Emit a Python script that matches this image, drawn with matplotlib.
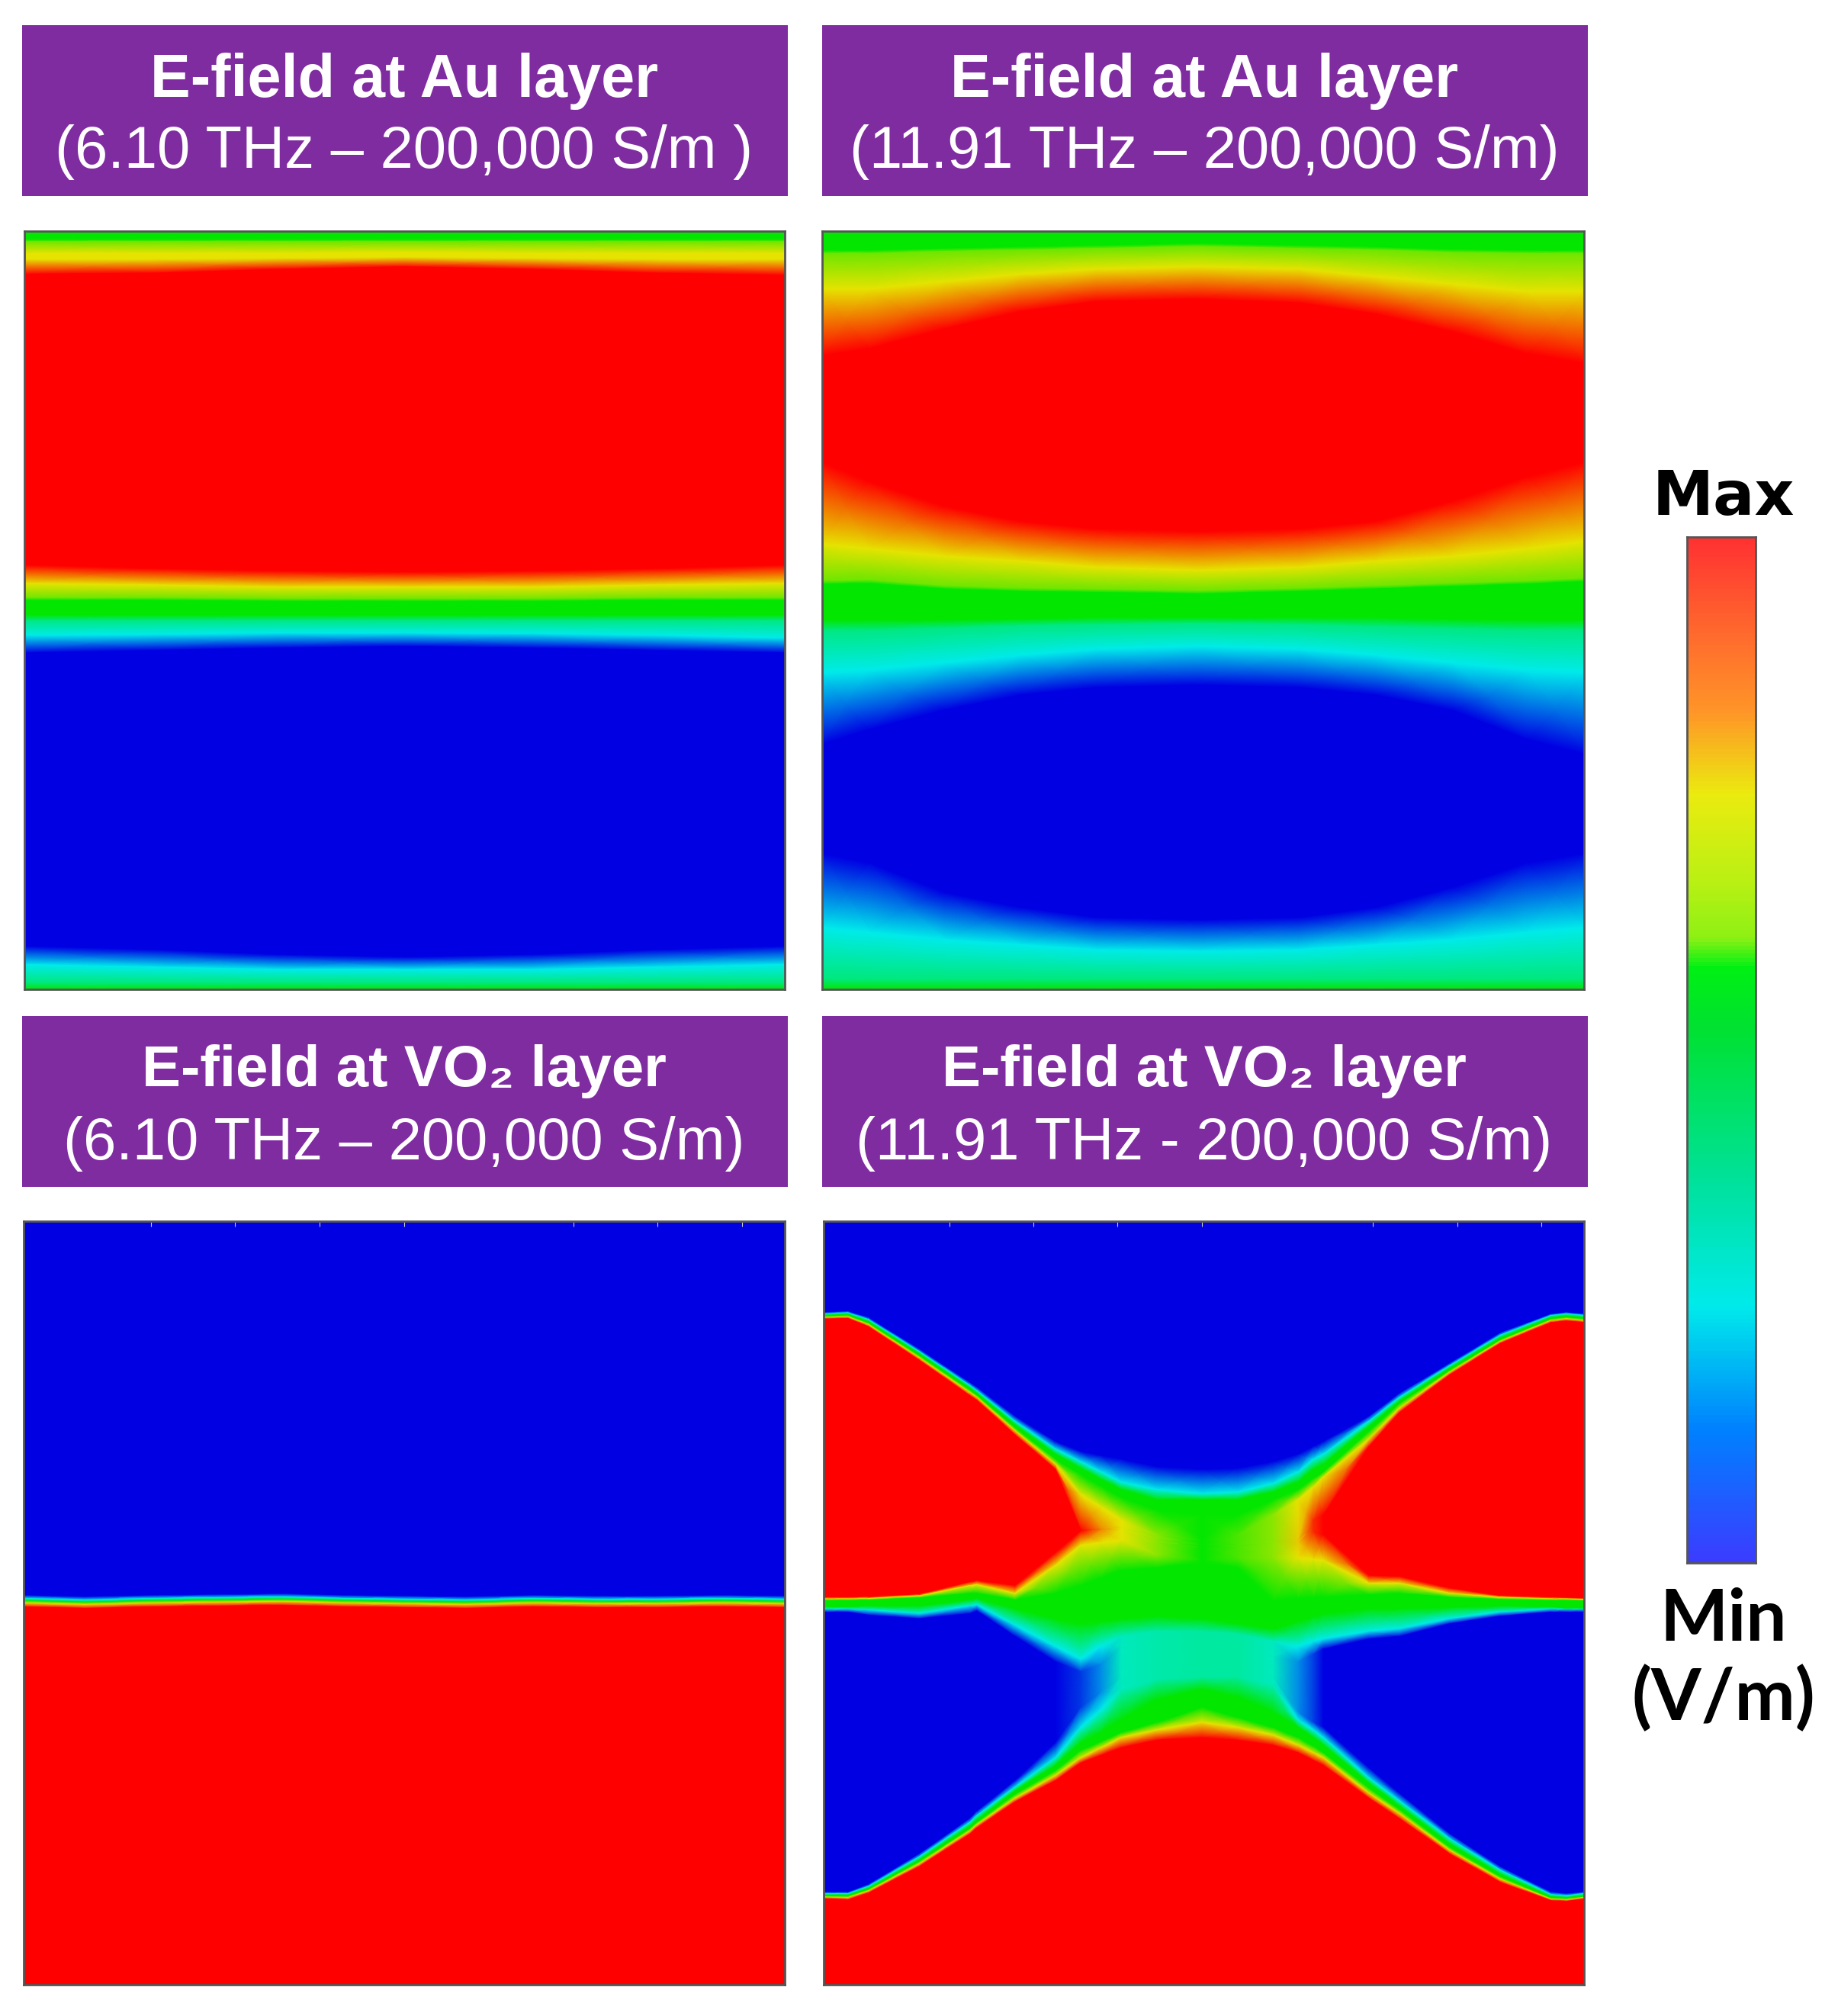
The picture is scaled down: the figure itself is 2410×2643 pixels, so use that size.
import numpy as np
import matplotlib.pyplot as plt
from matplotlib.colors import LinearSegmentedColormap
from matplotlib.patches import Rectangle

# field colours, value 0 = min, 1 = max
field_cmap = LinearSegmentedColormap.from_list('field', [
    (0.0, (0, 0, 0.89)), (0.25, (0, 0.92, 0.92)), (0.5, (0, 0.9, 0)),
    (0.75, (0.9, 0.9, 0)), (1.0, (1, 0, 0))])

# colour bar stops, top to bottom
bar_stops = [0, 0.1, 0.17, 0.25, 0.33, 0.39, 0.42, 0.48, 0.62, 0.75, 0.87, 1]
bar_colors = ['#ff3232', '#ff6e2d', '#ff9628', '#ebeb0f', '#bef014', '#8ff014', '#00f014',
              '#00e132', '#00e196', '#00ebeb', '#0082ff', '#3c3cff']

titles = ['E-field at Au layer', 'E-field at Au layer', 'E-field at VO₂ layer', 'E-field at VO₂ layer']
title_sizes = [57, 57, 55, 55]
subtitles = ['(6.10 THz – 200,000 S/m )', '(11.91 THz – 200,000 S/m)',
             '(6.10 THz – 200,000 S/m)', '(11.91 THz - 200,000 S/m)']

# Panel A: y of each iso line at the columns in a_x
a_x = [48, 300, 550, 800, 1050, 1300, 1550]
a_levels = [0.5, 0.5, 0.62, 0.75, 0.75, 1, 1, 0.75, 0.62, 0.5, 0.5, 0.36, 0.25, 0, 0, 0.25, 0.37, 0.5]
a_lines = [
    [33, 33, 33, 33, 33, 33, 33],
    [50, 50, 50, 50, 50, 50, 50],
    [54, 54, 54, 54, 54, 54, 54],
    [78, 78, 78, 76, 78, 78, 78],
    [90, 90, 88, 86, 88, 90, 90],
    [120, 118, 110, 105, 110, 118, 122],
    [708, 715, 720, 722, 720, 715, 708],
    [745, 748, 752, 752, 752, 748, 745],
    [774, 774, 776, 776, 776, 774, 774],
    [779, 779, 781, 781, 781, 779, 779],
    [808, 808, 808, 808, 808, 808, 808],
    [820, 820, 820, 820, 820, 820, 820],
    [850, 848, 845, 845, 846, 850, 855],
    [885, 880, 875, 872, 875, 880, 885],
    [1478, 1485, 1495, 1500, 1495, 1485, 1478],
    [1515, 1520, 1525, 1525, 1525, 1520, 1515],
    [1552, 1552, 1552, 1552, 1552, 1552, 1552],
    [1565, 1565, 1565, 1565, 1565, 1565, 1565],
]

# Panel B
b_x = [55, 150, 300, 450, 600, 800, 1000, 1150, 1300, 1450, 1565]
b_levels = [0.5, 0.5, 0.62, 0.75, 1, 1, 0.75, 0.62, 0.5, 0.5, 0.36, 0.25, 0, 0, 0.25, 0.37, 0.5]
b_lines = [
    [33, 33, 33, 33, 33, 33, 33, 33, 33, 33, 33],
    [72, 72, 68, 65, 62, 58, 62, 65, 70, 72, 72],
    [78, 78, 74, 71, 68, 64, 68, 71, 76, 78, 78],
    [150, 150, 135, 120, 110, 105, 110, 125, 140, 155, 155],
    [285, 270, 230, 195, 175, 170, 178, 200, 235, 280, 300],
    [500, 540, 590, 620, 635, 640, 635, 620, 580, 530, 500],
    [665, 675, 690, 700, 712, 718, 712, 700, 690, 675, 660],
    [740, 738, 750, 755, 757, 760, 755, 750, 745, 740, 735],
    [746, 745, 756, 761, 763, 766, 761, 756, 751, 746, 741],
    [818, 818, 818, 816, 813, 813, 813, 813, 816, 818, 818],
    [840, 840, 835, 830, 828, 826, 828, 832, 836, 840, 840],
    [925, 920, 905, 890, 878, 872, 878, 890, 905, 920, 925],
    [1070, 1040, 1000, 970, 955, 950, 955, 970, 1000, 1060, 1090],
    [1290, 1310, 1370, 1400, 1420, 1425, 1420, 1400, 1360, 1310, 1290],
    [1440, 1450, 1465, 1475, 1485, 1488, 1485, 1475, 1465, 1450, 1440],
    [1545, 1545, 1545, 1545, 1545, 1545, 1545, 1545, 1545, 1545, 1545],
    [1565, 1565, 1565, 1565, 1565, 1565, 1565, 1565, 1565, 1565, 1565],
]

# Panel C: thin interface in the middle
c_x = [0, 80, 170, 250, 340, 420, 500, 580, 670, 750, 830, 920, 1000]
c_levels = [0, 0, 0.25, 0.5, 0.75, 1, 1]
c_mid = [497, 499, 497, 496, 495, 497, 498, 499, 497, 498, 498, 497, 498]

# Panel D: y of each iso line at the columns in d_x
d_x = [62, 110, 150, 250, 350, 365, 440, 520, 570, 610, 650, 720, 810, 880, 950, 1000, 1030, 1050, 1140, 1200, 1300, 1400, 1500, 1530, 1565]
d_peak = [1, 1, 1, 1, 1, 1, 1, 1, 1, 0.85, 0.75, 0.65, 0.5, 0.58, 0.65, 0.78, 0.95, 1, 1, 1, 1, 1, 1, 1, 1]
d_valley = [0, 0, 0, 0, 0, 0, 0, 0, 0.06, 0.15, 0.3, 0.32, 0.33, 0.33, 0.3, 0.15, 0.07, 0, 0, 0, 0, 0, 0, 0, 0]
d_blue_end = [240, 238, 250, 312, 378, 388, 445, 495, 515, 523, 530, 545, 550, 548, 535, 520, 505, 495, 445, 400, 340, 280, 243, 240, 243]
d_cyan = [243, 241, 254, 317, 384, 395, 455, 510, 535, 555, 575, 590, 598, 595, 578, 555, 530, 520, 455, 408, 345, 285, 246, 243, 246]
d_green = [246, 244, 258, 321, 389, 400, 462, 520, 548, 570, 590, 610, 610, 610, 595, 575, 550, 540, 465, 415, 350, 290, 250, 247, 250]
d_green_end = [248, 246, 261, 325, 393, 404, 468, 530, 560, 583, 605, 630, 640, 640, 610, 590, 568, 555, 475, 420, 354, 294, 253, 250, 253]
d_yellow = [250, 249, 264, 329, 398, 408, 474, 540, 600, 625, 650, 680, 690, 680, 640, 610, 585, 565, 490, 430, 358, 297, 256, 253, 256]
d_red = [253, 252, 268, 334, 404, 414, 482, 550, 670, 668, 665, 690, 700, 700, 690, 690, 650, 640, 505, 438, 363, 301, 260, 257, 260]
d_red_end = [803, 803, 802, 797, 773, 770, 780, 715, 672, 670, 668, 695, 705, 705, 695, 695, 675, 680, 760, 762, 785, 800, 803, 804, 805]
d_yellow2 = [806, 806, 805, 800, 780, 778, 795, 740, 700, 695, 690, 720, 730, 725, 725, 725, 728, 730, 775, 775, 795, 803, 806, 806, 807]
d_green2 = [809, 809, 808, 804, 795, 795, 808, 795, 780, 765, 750, 745, 735, 745, 810, 805, 803, 802, 798, 795, 803, 807, 809, 809, 810]
d_green2_end = [822, 822, 820, 820, 808, 805, 825, 845, 855, 850, 845, 840, 845, 855, 865, 850, 840, 835, 825, 825, 822, 820, 822, 825, 825]
d_cyan2 = [826, 826, 828, 835, 820, 818, 858, 900, 925, 900, 880, 870, 870, 875, 890, 900, 890, 885, 870, 865, 845, 832, 826, 826, 826]
d_blue2 = [832, 832, 838, 845, 835, 830, 880, 930, 950, 935, 900, 900, 900, 900, 920, 930, 915, 905, 885, 880, 855, 840, 832, 832, 832]
d_blue2_end = [1385, 1385, 1370, 1310, 1240, 1225, 1165, 1090, 1020, 990, 960, 960, 955, 955, 960, 1030, 1050, 1060, 1140, 1190, 1270, 1335, 1385, 1388, 1385]
d_cyan3 = [1388, 1388, 1374, 1316, 1248, 1234, 1178, 1120, 1060, 1025, 985, 965, 960, 960, 975, 1045, 1065, 1080, 1160, 1205, 1280, 1342, 1390, 1392, 1388]
d_green3 = [1391, 1391, 1378, 1322, 1255, 1242, 1185, 1135, 1090, 1070, 1045, 1005, 985, 1000, 1030, 1060, 1080, 1095, 1170, 1215, 1290, 1350, 1394, 1396, 1392]
d_green3_end = [1393, 1393, 1380, 1325, 1260, 1247, 1192, 1145, 1105, 1088, 1070, 1050, 1020, 1040, 1060, 1080, 1097, 1110, 1180, 1222, 1297, 1355, 1397, 1398, 1394]
d_yellow3 = [1395, 1396, 1383, 1330, 1265, 1252, 1200, 1155, 1120, 1100, 1080, 1065, 1050, 1060, 1075, 1095, 1110, 1120, 1190, 1230, 1303, 1360, 1399, 1400, 1396]
d_red3 = [1398, 1400, 1387, 1335, 1271, 1258, 1207, 1165, 1130, 1115, 1100, 1085, 1080, 1085, 1095, 1110, 1125, 1135, 1200, 1240, 1310, 1366, 1402, 1403, 1399]

W, H = 2410, 2643
fig = plt.figure(figsize=(W / 100, H / 100), dpi=100)
bg = fig.add_axes([0, 0, 1, 1])
bg.set_xlim(0, W)
bg.set_ylim(H, 0)
bg.axis('off')


def panel(x0, y0, x1, y1):
    ax = fig.add_axes([x0 / W, 1 - y1 / H, (x1 - x0) / W, (y1 - y0) / H])
    for s in ax.spines.values():
        s.set_color('#555555')
        s.set_linewidth(2)
    return ax


def draw_field(ax, xs, lines, values):
    X = np.tile(xs, (len(lines), 1))
    Y = np.array(lines, dtype=float)
    Z = np.array(values, dtype=float)
    if Z.ndim == 1:
        Z = np.tile(Z[:, None], (1, len(xs)))
    ax.pcolormesh(X, Y, Z, shading='gouraud', cmap=field_cmap, vmin=0, vmax=1)
    ax.set_xlim(xs[0], xs[-1])
    ax.set_ylim(Y.max(), Y.min())
    ax.set_xticks([])
    ax.set_yticks([])


# Headers
for i, (hx, hy) in enumerate([(29, 33), (1078, 33), (29, 1332), (1078, 1332)]):
    bg.add_patch(Rectangle((hx, hy), 1004, 224, color='#7f2ca0', lw=0))
    cx = hx + 501
    bg.text(cx, hy + 73, titles[i], color='white', fontsize=title_sizes[i], fontweight='bold',
            ha='center', va='center', family=['Liberation Sans', 'DejaVu Sans'])
    bg.text(cx, hy + 167, subtitles[i], color='white', fontsize=56,
            ha='center', va='center', family=['Liberation Sans', 'DejaVu Sans'])

# Panel A
ax = panel(32, 303, 1029, 1297)
draw_field(ax, a_x, a_lines, a_levels)

# Panel B
ax = panel(1078, 303, 2077, 1297)
draw_field(ax, b_x, b_lines, b_levels)

# Panel C
mid = np.array(c_mid)
c_lines = [np.zeros(len(mid)), mid - 7, mid - 3, mid, mid + 3, mid + 8, np.full(len(mid), 1000)]
ax = panel(31, 1601, 1029, 2602)
draw_field(ax, c_x, c_lines, c_levels)
ax.set_xticks([167, 278, 389, 500, 722, 833, 944])
ax.tick_params(axis='x', top=True, bottom=False, direction='in', length=5, color='#cccccc', labeltop=False, labelbottom=False)

# Panel D
peak = np.array(d_peak)
valley = np.array(d_valley)
n = len(d_x)
d_lines = [np.full(n, 60), d_blue_end, d_cyan, d_green, d_green_end, d_yellow, d_red, d_red_end,
           d_yellow2, d_green2, d_green2_end, d_cyan2, d_blue2, d_blue2_end, d_cyan3, d_green3,
           d_green3_end, d_yellow3, d_red3, np.full(n, 1568)]
d_values = [np.zeros(n), np.zeros(n), np.full(n, 0.25), np.full(n, 0.5), np.full(n, 0.5),
            np.minimum(peak, 0.75), peak, peak, np.minimum(peak, 0.75), np.full(n, 0.5), np.full(n, 0.5),
            np.maximum(valley, 0.25), valley, valley, np.maximum(valley, 0.25), np.full(n, 0.5), np.full(n, 0.5),
            np.full(n, 0.75), np.ones(n), np.ones(n)]
ax = panel(1080, 1601, 2077, 2602)
draw_field(ax, d_x, d_lines, d_values)
ax.set_xticks([310, 477, 643, 810, 1147, 1314, 1480])
ax.tick_params(axis='x', top=True, bottom=False, direction='in', length=5, color='#cccccc', labeltop=False, labelbottom=False)

# Colour bar
bar_cmap = LinearSegmentedColormap.from_list('bar', list(zip(bar_stops, bar_colors)))
cb = panel(2212, 704, 2302, 2049)
cb.imshow(np.linspace(0, 1, 256)[:, None], cmap=bar_cmap, aspect='auto')
cb.set_xticks([])
cb.set_yticks([])

bg.text(2260, 653, 'Max', fontsize=58, fontweight='bold', ha='center', va='center', family='DejaVu Sans')
bg.text(2260, 2124, 'Min', fontsize=68, fontweight='bold', ha='center', va='center', family='Lato')
bg.text(2260, 2227, '(V/m)', fontsize=68, fontweight='bold', ha='center', va='center', family='Lato')

fig.savefig('out.png', dpi=100)
